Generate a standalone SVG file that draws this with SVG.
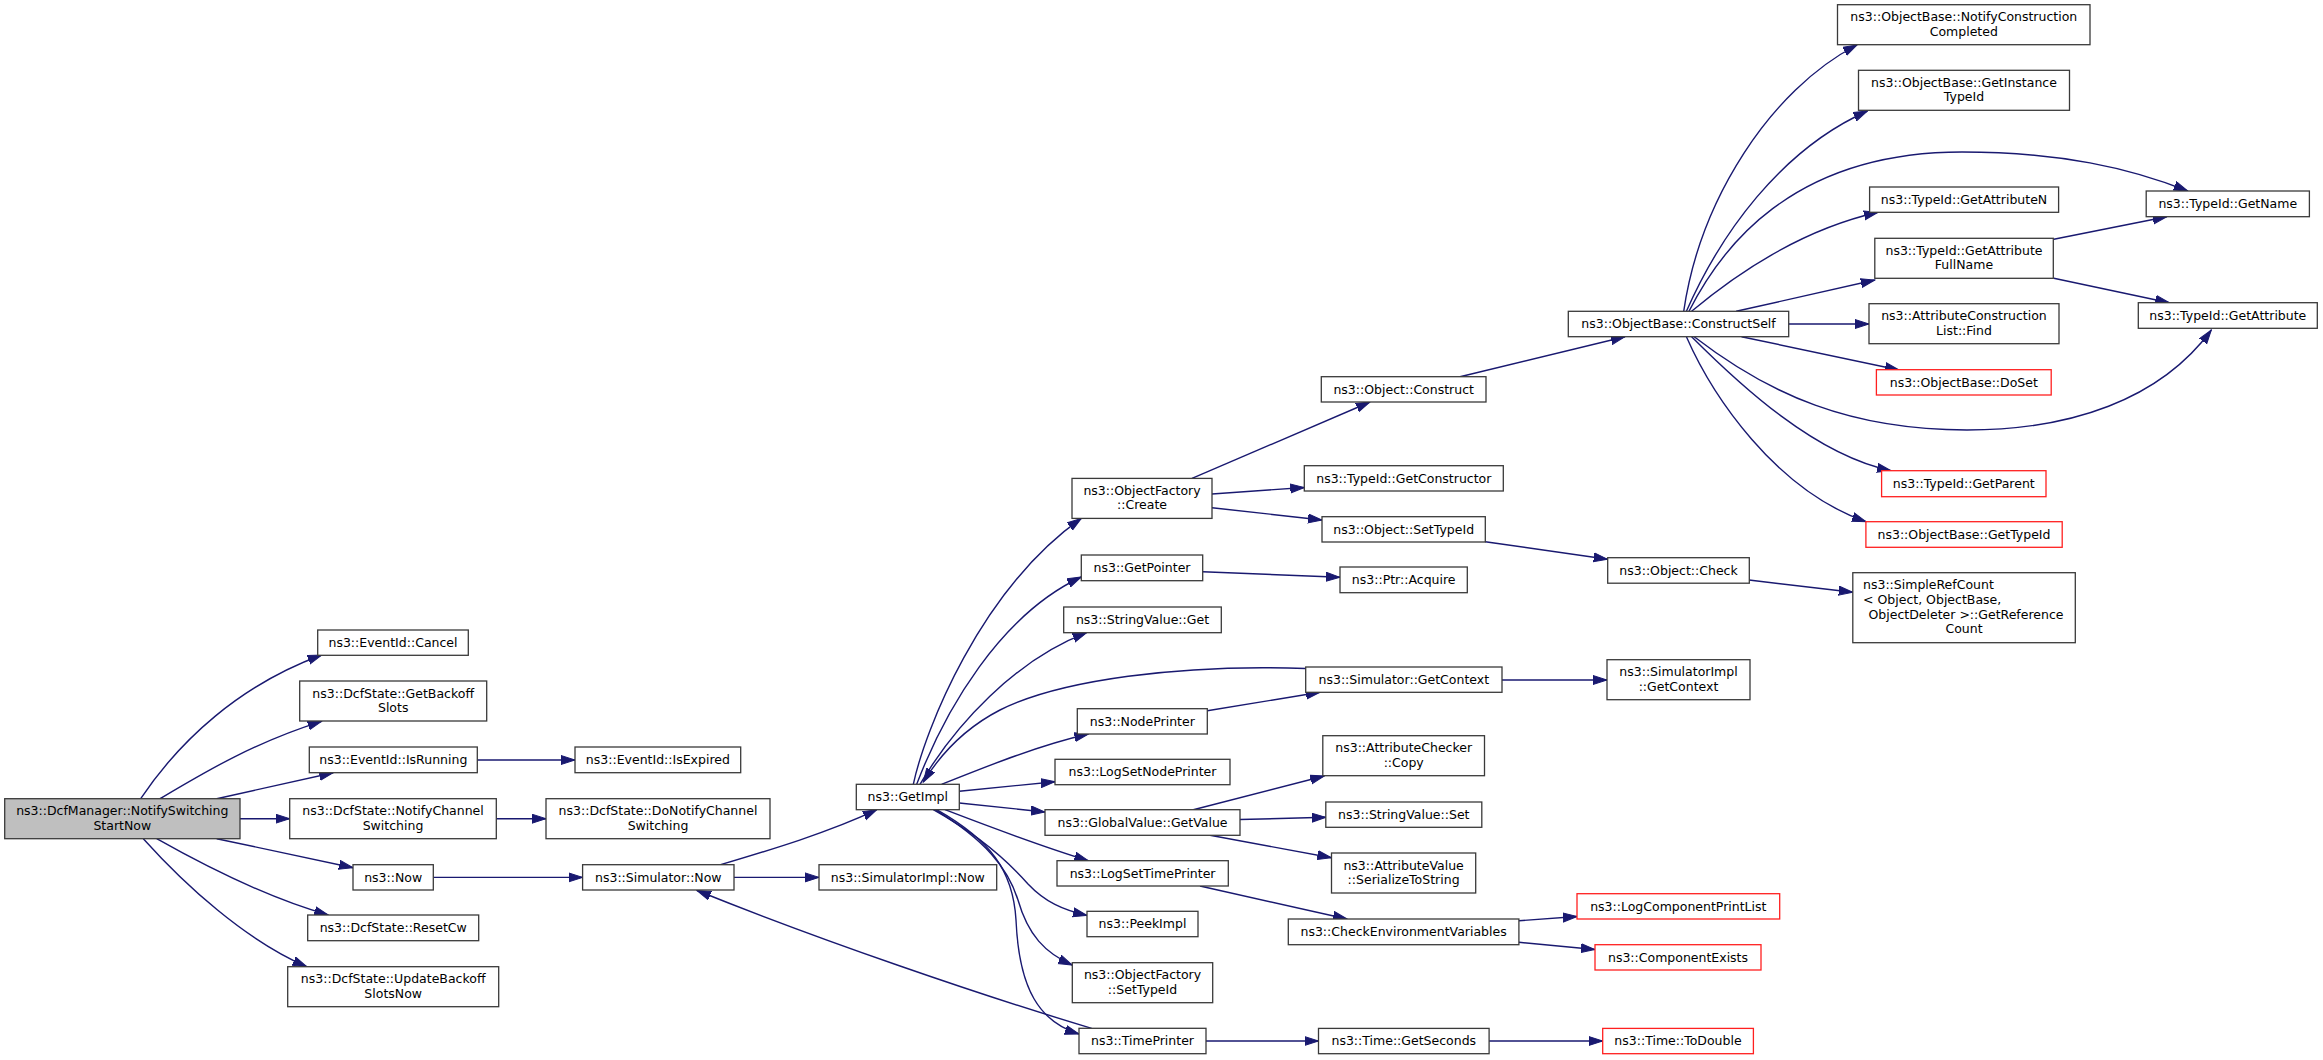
<svg xmlns="http://www.w3.org/2000/svg" width="2323" height="1060" viewBox="0 0 2323 1060">
<style>
.n rect{fill:#ffffff;stroke:#3a3a3a;stroke-width:1.3}
.n.r rect{stroke:#ff2020}
.n.m rect{fill:#bfbfbf}
text{font-family:"DejaVu Sans","Liberation Sans",sans-serif;font-size:12.5px;text-anchor:middle;fill:#000}
text.l{text-anchor:start}
#edges path{fill:none;stroke:#191970;stroke-width:1.4;marker-end:url(#a)}
</style>
<defs>
<marker id="a" markerUnits="userSpaceOnUse" markerWidth="15" markerHeight="11" viewBox="0 0 15 11" refX="14" refY="5" orient="auto">
<path d="M0,0.5 L14,5 L0,9.5 z" fill="#191970" stroke="#191970" stroke-width="1"/>
</marker>
</defs>
<rect width="2323" height="1060" fill="#ffffff"/>
<g id="edges">
<path d="M140.7,798.7 C180,740 240,685 321.7,655"/>
<path d="M160,798.7 C205,772 255,742 321.7,721.3"/>
<path d="M216.7,798.7 L333.3,772.7"/>
<path d="M240,818.7 L289.7,818.7"/>
<path d="M216.7,838.7 L353,867.7"/>
<path d="M156.7,838.7 C205,866 265,897 328.3,915"/>
<path d="M143.3,838.7 C185,885 245,940 306.7,966.7"/>
<path d="M477.3,760 L575,760"/>
<path d="M496.3,818.7 L546,818.7"/>
<path d="M433.3,877.4 L582.6,877.4"/>
<path d="M734,877.4 L819,877.4"/>
<path d="M720.6,864.7 C770,850 830,832 876.8,809.7"/>
<path d="M1091.7,1028.3 C980,995 820,940 697,890.5"/>
<path d="M913.3,784.3 C925,730 980,590 1081.3,518.4"/>
<path d="M916.7,784.3 C945,710 1000,615 1081.3,577"/>
<path d="M920,784.3 C955,725 1015,660 1086.7,632.7"/>
<path d="M1305.7,668.5 C1180,664 1060,680 1000,710 C965,728 940,755 923.3,782"/>
<path d="M941.7,784.3 C990,765 1040,745 1088.3,734"/>
<path d="M1207.3,710.7 L1320,692.3"/>
<path d="M959.3,791.3 L1055,781.7"/>
<path d="M959.3,803 L1045,812"/>
<path d="M945,809.7 C990,827 1040,846 1088.3,860.7"/>
<path d="M933.3,809.7 C975,833 1005,858 1028,884 C1045,902 1063,910 1087,915.5"/>
<path d="M935,809.7 C985,840 1008,868 1018,900 C1028,935 1045,953 1072.3,965"/>
<path d="M936.7,809.7 C990,840 1013,870 1016,920 C1019,990 1040,1022 1079,1034"/>
<path d="M1192,478.4 L1370,402"/>
<path d="M1212,494 L1304.3,487.5"/>
<path d="M1212,507.7 L1322,520"/>
<path d="M1202.7,571.7 L1340,577.3"/>
<path d="M1460,376.7 L1625,336.7"/>
<path d="M1485.3,541.7 L1607.7,559.3"/>
<path d="M1502,680 L1607,680"/>
<path d="M1749,580 L1852.8,592.3"/>
<path d="M1193.3,809.7 L1324.3,776"/>
<path d="M1240,819.5 L1325.8,817.3"/>
<path d="M1210,835.3 L1331.5,857.7"/>
<path d="M1200,886 L1347,919"/>
<path d="M1518.9,920.7 L1577,916.5"/>
<path d="M1518.9,942.3 L1595,949.5"/>
<path d="M1206,1041 L1318.5,1041"/>
<path d="M1489,1041 L1602.7,1041"/>
<path d="M1683.7,311.3 C1700,200 1770,90 1857,45"/>
<path d="M1686.4,311.3 C1720,235 1780,150 1867.5,111"/>
<path d="M1689,311.3 C1720,250 1790,152 1962,152 C2060,152 2130,168 2187.7,191"/>
<path d="M1691.6,311.3 C1735,275 1800,230 1878,212.3"/>
<path d="M1736.2,311.3 L1874.8,280"/>
<path d="M1788.7,324 L1869,324"/>
<path d="M1741.5,336.7 L1899,370"/>
<path d="M1694.2,336.7 C1770,395 1850,430 1967,430 C2070,430 2160,400 2211.3,330"/>
<path d="M1691.6,336.7 C1740,385 1815,455 1891,470.7"/>
<path d="M1686.4,336.7 C1712,395 1775,490 1866,521.7"/>
<path d="M2053.8,239.3 L2166.7,216.7"/>
<path d="M2053.8,278.3 L2169.3,302.7"/>
</g>
<g id="n_main" class="n m"><rect x="4.7" y="798.7" width="235.3" height="40"/><text x="122.3" y="815.2">ns3::DcfManager::NotifySwitching</text><text x="122.3" y="829.7">StartNow</text></g>
<g id="n_cancel" class="n"><rect x="317.7" y="630" width="150.6" height="25.3"/><text x="393" y="647">ns3::EventId::Cancel</text></g>
<g id="n_getbackoff" class="n"><rect x="299.7" y="681" width="187" height="40"/><text x="393.2" y="697.5">ns3::DcfState::GetBackoff</text><text x="393.2" y="712">Slots</text></g>
<g id="n_isrunning" class="n"><rect x="309.3" y="747" width="168" height="25.7"/><text x="393.3" y="764">ns3::EventId::IsRunning</text></g>
<g id="n_notifychannel" class="n"><rect x="289.7" y="798.7" width="206.6" height="40"/><text x="393" y="815.2">ns3::DcfState::NotifyChannel</text><text x="393" y="829.7">Switching</text></g>
<g id="n_now" class="n"><rect x="353" y="864.7" width="80.3" height="25.3"/><text x="393.2" y="881.7">ns3::Now</text></g>
<g id="n_resetcw" class="n"><rect x="307.7" y="915" width="171" height="25.7"/><text x="393.2" y="932">ns3::DcfState::ResetCw</text></g>
<g id="n_updatebackoff" class="n"><rect x="287.7" y="966.7" width="211" height="40"/><text x="393.2" y="983.2">ns3::DcfState::UpdateBackoff</text><text x="393.2" y="997.7">SlotsNow</text></g>
<g id="n_isexpired" class="n"><rect x="575" y="747" width="165.7" height="25.7"/><text x="657.9" y="764">ns3::EventId::IsExpired</text></g>
<g id="n_donotify" class="n"><rect x="546" y="798.7" width="224" height="40"/><text x="658" y="815.2">ns3::DcfState::DoNotifyChannel</text><text x="658" y="829.7">Switching</text></g>
<g id="n_simnow" class="n"><rect x="582.6" y="864.7" width="151.4" height="25.3"/><text x="658.3" y="881.7">ns3::Simulator::Now</text></g>
<g id="n_getimpl" class="n"><rect x="856.3" y="784.3" width="103" height="25.4"/><text x="907.8" y="801.3">ns3::GetImpl</text></g>
<g id="n_simimplnow" class="n"><rect x="819" y="864.7" width="177.7" height="25.3"/><text x="907.8" y="881.7">ns3::SimulatorImpl::Now</text></g>
<g id="n_ofcreate" class="n"><rect x="1072" y="478.4" width="140" height="40"/><text x="1142" y="494.9">ns3::ObjectFactory</text><text x="1142" y="509.4">::Create</text></g>
<g id="n_getpointer" class="n"><rect x="1081.3" y="555" width="121.4" height="25.7"/><text x="1142" y="572">ns3::GetPointer</text></g>
<g id="n_svget" class="n"><rect x="1063.7" y="607" width="157.6" height="25.7"/><text x="1142.5" y="624">ns3::StringValue::Get</text></g>
<g id="n_nodeprinter" class="n"><rect x="1077.3" y="708.7" width="130" height="25.3"/><text x="1142.3" y="725.7">ns3::NodePrinter</text></g>
<g id="n_logsetnodeprinter" class="n"><rect x="1055" y="759.3" width="175" height="25.4"/><text x="1142.5" y="776.3">ns3::LogSetNodePrinter</text></g>
<g id="n_globalvalue" class="n"><rect x="1045" y="809.7" width="195" height="25.6"/><text x="1142.5" y="826.7">ns3::GlobalValue::GetValue</text></g>
<g id="n_logsettimeprinter" class="n"><rect x="1057" y="860.7" width="171.3" height="25.3"/><text x="1142.6" y="877.7">ns3::LogSetTimePrinter</text></g>
<g id="n_peekimpl" class="n"><rect x="1087" y="911.3" width="111" height="25.4"/><text x="1142.5" y="928.3">ns3::PeekImpl</text></g>
<g id="n_ofsettypeid" class="n"><rect x="1072.3" y="962.7" width="140.4" height="40"/><text x="1142.5" y="979.2">ns3::ObjectFactory</text><text x="1142.5" y="993.7">::SetTypeId</text></g>
<g id="n_timeprinter" class="n"><rect x="1079" y="1028.3" width="127" height="25.4"/><text x="1142.5" y="1045.3">ns3::TimePrinter</text></g>
<g id="n_construct" class="n"><rect x="1321.3" y="376.7" width="164.7" height="25.3"/><text x="1403.7" y="393.7">ns3::Object::Construct</text></g>
<g id="n_getconstructor" class="n"><rect x="1304.3" y="465.7" width="199" height="25.3"/><text x="1403.8" y="482.7">ns3::TypeId::GetConstructor</text></g>
<g id="n_objsettypeid" class="n"><rect x="1322" y="516.7" width="163.3" height="25.3"/><text x="1403.7" y="533.7">ns3::Object::SetTypeId</text></g>
<g id="n_ptracquire" class="n"><rect x="1340" y="567" width="127.3" height="25.7"/><text x="1403.7" y="584">ns3::Ptr::Acquire</text></g>
<g id="n_simgetcontext" class="n"><rect x="1305.7" y="667" width="196.3" height="25.3"/><text x="1403.8" y="684">ns3::Simulator::GetContext</text></g>
<g id="n_attrchecker" class="n"><rect x="1322.8" y="735.7" width="161.7" height="40"/><text x="1403.7" y="752.2">ns3::AttributeChecker</text><text x="1403.7" y="766.7">::Copy</text></g>
<g id="n_svset" class="n"><rect x="1325.8" y="802" width="156" height="25.3"/><text x="1403.8" y="819">ns3::StringValue::Set</text></g>
<g id="n_attrvalue" class="n"><rect x="1331.5" y="853" width="144.2" height="40"/><text x="1403.6" y="869.5">ns3::AttributeValue</text><text x="1403.6" y="884">::SerializeToString</text></g>
<g id="n_checkenv" class="n"><rect x="1288.3" y="919" width="230.6" height="25.7"/><text x="1403.6" y="936">ns3::CheckEnvironmentVariables</text></g>
<g id="n_getseconds" class="n"><rect x="1318.5" y="1028.4" width="170.6" height="25.3"/><text x="1403.8" y="1045.4">ns3::Time::GetSeconds</text></g>
<g id="n_constructself" class="n"><rect x="1568.3" y="311.3" width="220.4" height="25.4"/><text x="1678.5" y="328.3">ns3::ObjectBase::ConstructSelf</text></g>
<g id="n_objcheck" class="n"><rect x="1607.7" y="557.7" width="141.6" height="25.5"/><text x="1678.5" y="574.7">ns3::Object::Check</text></g>
<g id="n_simimplgetcontext" class="n"><rect x="1607" y="659.7" width="143" height="40"/><text x="1678.5" y="676.2">ns3::SimulatorImpl</text><text x="1678.5" y="690.7">::GetContext</text></g>
<g id="n_logcomponent" class="n r"><rect x="1577" y="893.7" width="202.7" height="25.3"/><text x="1678.3" y="910.7">ns3::LogComponentPrintList</text></g>
<g id="n_componentexists" class="n r"><rect x="1595" y="944.7" width="166" height="25.3"/><text x="1678" y="961.7">ns3::ComponentExists</text></g>
<g id="n_todouble" class="n r"><rect x="1602.7" y="1028.4" width="150.7" height="25.3"/><text x="1678" y="1045.4">ns3::Time::ToDouble</text></g>
<g id="n_notifyconstruction" class="n"><rect x="1837.5" y="4.7" width="252.5" height="40"/><text x="1963.8" y="21.2">ns3::ObjectBase::NotifyConstruction</text><text x="1963.8" y="35.7">Completed</text></g>
<g id="n_getinstance" class="n"><rect x="1858.5" y="70.3" width="211" height="40"/><text x="1964" y="86.8">ns3::ObjectBase::GetInstance</text><text x="1964" y="101.3">TypeId</text></g>
<g id="n_getattributen" class="n"><rect x="1869.6" y="187" width="189" height="25.3"/><text x="1964" y="204">ns3::TypeId::GetAttributeN</text></g>
<g id="n_getattrfullname" class="n"><rect x="1874.8" y="238.3" width="178.5" height="40"/><text x="1964" y="254.8">ns3::TypeId::GetAttribute</text><text x="1964" y="269.3">FullName</text></g>
<g id="n_attrconstruction" class="n"><rect x="1869" y="303.7" width="190" height="40"/><text x="1964" y="320.2">ns3::AttributeConstruction</text><text x="1964" y="334.7">List::Find</text></g>
<g id="n_doset" class="n r"><rect x="1876.4" y="369.7" width="174.8" height="25.3"/><text x="1963.8" y="386.7">ns3::ObjectBase::DoSet</text></g>
<g id="n_getparent" class="n r"><rect x="1881.6" y="470.7" width="164.4" height="26"/><text x="1963.8" y="487.7">ns3::TypeId::GetParent</text></g>
<g id="n_gettypeid" class="n r"><rect x="1865.9" y="521.7" width="196.3" height="25.6"/><text x="1964" y="538.7">ns3::ObjectBase::GetTypeId</text></g>
<g id="n_simplerefcount" class="n"><rect x="1852.8" y="572.7" width="222.5" height="70"/><text class="l" x="1863" y="589.2">ns3::SimpleRefCount</text><text class="l" x="1863" y="604">&lt; Object, ObjectBase,</text><text x="1966" y="618.8">ObjectDeleter &gt;::GetReference</text><text x="1964" y="633.3">Count</text></g>
<g id="n_getname" class="n"><rect x="2146.2" y="191" width="163.2" height="25.7"/><text x="2227.8" y="208">ns3::TypeId::GetName</text></g>
<g id="n_getattribute" class="n"><rect x="2138.3" y="302.7" width="179" height="25.6"/><text x="2227.8" y="319.7">ns3::TypeId::GetAttribute</text></g>
</svg>
